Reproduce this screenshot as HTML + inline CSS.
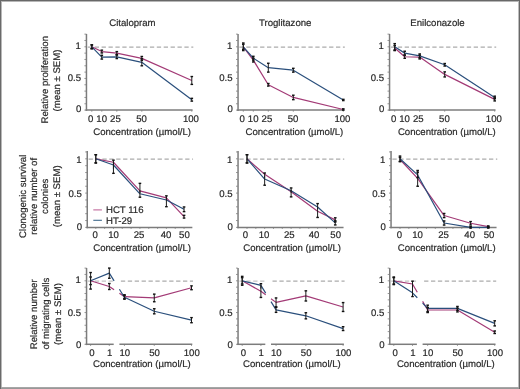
<!DOCTYPE html>
<html><head><meta charset="utf-8"><style>
html,body{margin:0;padding:0;background:#fff;}
#f{position:relative;width:520px;height:389px;overflow:hidden;background:#fff;}
svg{position:absolute;left:0;top:0;}
text{font-family:"Liberation Sans",sans-serif;fill:#2a2a2a;stroke:#2a2a2a;stroke-width:0.2px;text-rendering:geometricPrecision;}
</style></head><body><div id="f">
<svg width="520" height="389" viewBox="0 0 520 389" style="will-change:transform">
<rect x="0" y="0" width="520" height="389" fill="#fff"/>
<rect x="0" y="0" width="520" height="1" fill="#686868"/>
<rect x="1" y="1" width="518" height="1" fill="#b6b6b6"/>
<rect x="0" y="0" width="1" height="389" fill="#6a6a6a"/>
<rect x="1" y="1" width="1" height="386" fill="#b8b8b8"/>
<rect x="519" y="0" width="1" height="389" fill="#686868"/>
<rect x="518" y="1" width="1" height="386" fill="#bdbdbd"/>
<rect x="1" y="387" width="518" height="1" fill="#a6a6a6"/>
<rect x="1" y="388" width="518" height="1" fill="#989898"/>
<text x="132.4" y="26.4" text-anchor="middle" font-size="9.6" >Citalopram</text>
<line x1="87.8" y1="47.1" x2="193.3" y2="47.1" stroke="#acacac" stroke-width="1.15" stroke-dasharray="4.3 2.6"/>
<line x1="86.45" y1="33.9" x2="86.45" y2="110.9" stroke="#7c7c7c" stroke-width="1.5" />
<line x1="84.4" y1="110.1" x2="86.2" y2="110.1" stroke="#7c7c7c" stroke-width="0.8" />
<line x1="84.4" y1="103.77" x2="86.2" y2="103.77" stroke="#7c7c7c" stroke-width="0.8" />
<line x1="84.4" y1="97.44" x2="86.2" y2="97.44" stroke="#7c7c7c" stroke-width="0.8" />
<line x1="84.4" y1="91.11" x2="86.2" y2="91.11" stroke="#7c7c7c" stroke-width="0.8" />
<line x1="84.4" y1="84.78" x2="86.2" y2="84.78" stroke="#7c7c7c" stroke-width="0.8" />
<line x1="84.4" y1="78.45" x2="86.2" y2="78.45" stroke="#7c7c7c" stroke-width="0.8" />
<line x1="84.4" y1="72.12" x2="86.2" y2="72.12" stroke="#7c7c7c" stroke-width="0.8" />
<line x1="84.4" y1="65.79" x2="86.2" y2="65.79" stroke="#7c7c7c" stroke-width="0.8" />
<line x1="84.4" y1="59.46" x2="86.2" y2="59.46" stroke="#7c7c7c" stroke-width="0.8" />
<line x1="84.4" y1="53.13" x2="86.2" y2="53.13" stroke="#7c7c7c" stroke-width="0.8" />
<line x1="84.4" y1="46.8" x2="86.2" y2="46.8" stroke="#7c7c7c" stroke-width="0.8" />
<line x1="84.4" y1="40.47" x2="86.2" y2="40.47" stroke="#7c7c7c" stroke-width="0.8" />
<line x1="84.4" y1="34.14" x2="86.2" y2="34.14" stroke="#7c7c7c" stroke-width="0.8" />
<text x="80.8" y="49.2" text-anchor="end" font-size="9.6" >1</text>
<text x="81" y="80.6" text-anchor="end" font-size="9.6" >0.5</text>
<text x="81.3" y="111.55" text-anchor="end" font-size="9.6" >0</text>
<line x1="85.6" y1="110.1" x2="192.6" y2="110.1" stroke="#7c7c7c" stroke-width="1.5" />
<line x1="91.8" y1="110.1" x2="91.8" y2="111.7" stroke="#7c7c7c" stroke-width="0.8" />
<text x="90.7" y="122" text-anchor="middle" font-size="9.6" >0</text>
<line x1="101.8" y1="110.1" x2="101.8" y2="111.7" stroke="#7c7c7c" stroke-width="0.8" />
<text x="101.7" y="122" text-anchor="middle" font-size="9.6" >10</text>
<line x1="116.8" y1="110.1" x2="116.8" y2="111.7" stroke="#7c7c7c" stroke-width="0.8" />
<text x="115.45" y="122" text-anchor="middle" font-size="9.6" >25</text>
<line x1="141.8" y1="110.1" x2="141.8" y2="111.7" stroke="#7c7c7c" stroke-width="0.8" />
<text x="141.55" y="122" text-anchor="middle" font-size="9.6" >50</text>
<line x1="191.8" y1="110.1" x2="191.8" y2="111.7" stroke="#7c7c7c" stroke-width="0.8" />
<text x="190.95" y="122" text-anchor="middle" font-size="9.6" >100</text>
<text x="142.1" y="134.5" text-anchor="middle" font-size="9.6" >Concentration (µmol/L)</text>
<polyline points="91.8,46.8 101.8,51.55 116.8,53.13 141.8,58.38 191.8,80.48" fill="none" stroke="#a33a76" stroke-width="1.2" stroke-linejoin="round"/>
<polyline points="91.8,46.8 101.8,57.18 116.8,56.8 141.8,62.31 191.8,99.72" fill="none" stroke="#2a4f7c" stroke-width="1.2" stroke-linejoin="round"/>
<line x1="91.8" y1="44.9" x2="91.8" y2="48.7" stroke="#1c1c1c" stroke-width="1.0" />
<line x1="90.5" y1="44.9" x2="93.1" y2="44.9" stroke="#111" stroke-width="1.4" />
<line x1="90.5" y1="48.7" x2="93.1" y2="48.7" stroke="#111" stroke-width="1.4" />
<line x1="101.8" y1="50.15" x2="101.8" y2="52.94" stroke="#1c1c1c" stroke-width="1.0" />
<line x1="100.5" y1="50.15" x2="103.1" y2="50.15" stroke="#111" stroke-width="1.4" />
<line x1="100.5" y1="52.94" x2="103.1" y2="52.94" stroke="#111" stroke-width="1.4" />
<line x1="116.8" y1="51.61" x2="116.8" y2="54.65" stroke="#1c1c1c" stroke-width="1.0" />
<line x1="115.5" y1="51.61" x2="118.1" y2="51.61" stroke="#111" stroke-width="1.4" />
<line x1="115.5" y1="54.65" x2="118.1" y2="54.65" stroke="#111" stroke-width="1.4" />
<line x1="141.8" y1="56.48" x2="141.8" y2="60.28" stroke="#1c1c1c" stroke-width="1.0" />
<line x1="140.5" y1="56.48" x2="143.1" y2="56.48" stroke="#111" stroke-width="1.4" />
<line x1="140.5" y1="60.28" x2="143.1" y2="60.28" stroke="#111" stroke-width="1.4" />
<line x1="191.8" y1="76.55" x2="191.8" y2="84.4" stroke="#1c1c1c" stroke-width="1.0" />
<line x1="190.5" y1="76.55" x2="193.1" y2="76.55" stroke="#111" stroke-width="1.4" />
<line x1="190.5" y1="84.4" x2="193.1" y2="84.4" stroke="#111" stroke-width="1.4" />
<line x1="91.8" y1="44.9" x2="91.8" y2="48.7" stroke="#1c1c1c" stroke-width="1.0" />
<line x1="90.5" y1="44.9" x2="93.1" y2="44.9" stroke="#111" stroke-width="1.4" />
<line x1="90.5" y1="48.7" x2="93.1" y2="48.7" stroke="#111" stroke-width="1.4" />
<line x1="101.8" y1="55.28" x2="101.8" y2="59.08" stroke="#1c1c1c" stroke-width="1.0" />
<line x1="100.5" y1="55.28" x2="103.1" y2="55.28" stroke="#111" stroke-width="1.4" />
<line x1="100.5" y1="59.08" x2="103.1" y2="59.08" stroke="#111" stroke-width="1.4" />
<line x1="116.8" y1="55.03" x2="116.8" y2="58.57" stroke="#1c1c1c" stroke-width="1.0" />
<line x1="115.5" y1="55.03" x2="118.1" y2="55.03" stroke="#111" stroke-width="1.4" />
<line x1="115.5" y1="58.57" x2="118.1" y2="58.57" stroke="#111" stroke-width="1.4" />
<line x1="141.8" y1="58.83" x2="141.8" y2="65.79" stroke="#1c1c1c" stroke-width="1.0" />
<line x1="140.5" y1="58.83" x2="143.1" y2="58.83" stroke="#111" stroke-width="1.4" />
<line x1="140.5" y1="65.79" x2="143.1" y2="65.79" stroke="#111" stroke-width="1.4" />
<line x1="191.8" y1="98.33" x2="191.8" y2="101.11" stroke="#1c1c1c" stroke-width="1.0" />
<line x1="190.5" y1="98.33" x2="193.1" y2="98.33" stroke="#111" stroke-width="1.4" />
<line x1="190.5" y1="101.11" x2="193.1" y2="101.11" stroke="#111" stroke-width="1.4" />
<text x="285.2" y="26.4" text-anchor="middle" font-size="9.6" >Troglitazone</text>
<line x1="239.4" y1="47.1" x2="344.8" y2="47.1" stroke="#acacac" stroke-width="1.15" stroke-dasharray="4.3 2.6"/>
<line x1="238.05" y1="33.9" x2="238.05" y2="110.9" stroke="#7c7c7c" stroke-width="1.5" />
<line x1="236" y1="110.1" x2="237.8" y2="110.1" stroke="#7c7c7c" stroke-width="0.8" />
<line x1="236" y1="103.77" x2="237.8" y2="103.77" stroke="#7c7c7c" stroke-width="0.8" />
<line x1="236" y1="97.44" x2="237.8" y2="97.44" stroke="#7c7c7c" stroke-width="0.8" />
<line x1="236" y1="91.11" x2="237.8" y2="91.11" stroke="#7c7c7c" stroke-width="0.8" />
<line x1="236" y1="84.78" x2="237.8" y2="84.78" stroke="#7c7c7c" stroke-width="0.8" />
<line x1="236" y1="78.45" x2="237.8" y2="78.45" stroke="#7c7c7c" stroke-width="0.8" />
<line x1="236" y1="72.12" x2="237.8" y2="72.12" stroke="#7c7c7c" stroke-width="0.8" />
<line x1="236" y1="65.79" x2="237.8" y2="65.79" stroke="#7c7c7c" stroke-width="0.8" />
<line x1="236" y1="59.46" x2="237.8" y2="59.46" stroke="#7c7c7c" stroke-width="0.8" />
<line x1="236" y1="53.13" x2="237.8" y2="53.13" stroke="#7c7c7c" stroke-width="0.8" />
<line x1="236" y1="46.8" x2="237.8" y2="46.8" stroke="#7c7c7c" stroke-width="0.8" />
<line x1="236" y1="40.47" x2="237.8" y2="40.47" stroke="#7c7c7c" stroke-width="0.8" />
<line x1="236" y1="34.14" x2="237.8" y2="34.14" stroke="#7c7c7c" stroke-width="0.8" />
<text x="232.4" y="49.2" text-anchor="end" font-size="9.6" >1</text>
<text x="232.6" y="80.6" text-anchor="end" font-size="9.6" >0.5</text>
<text x="232.9" y="111.55" text-anchor="end" font-size="9.6" >0</text>
<line x1="237.2" y1="110.1" x2="344.1" y2="110.1" stroke="#7c7c7c" stroke-width="1.5" />
<line x1="243.3" y1="110.1" x2="243.3" y2="111.7" stroke="#7c7c7c" stroke-width="0.8" />
<text x="242.2" y="122" text-anchor="middle" font-size="9.6" >0</text>
<line x1="253.3" y1="110.1" x2="253.3" y2="111.7" stroke="#7c7c7c" stroke-width="0.8" />
<text x="253.2" y="122" text-anchor="middle" font-size="9.6" >10</text>
<line x1="268.3" y1="110.1" x2="268.3" y2="111.7" stroke="#7c7c7c" stroke-width="0.8" />
<text x="266.95" y="122" text-anchor="middle" font-size="9.6" >25</text>
<line x1="293.3" y1="110.1" x2="293.3" y2="111.7" stroke="#7c7c7c" stroke-width="0.8" />
<text x="293.05" y="122" text-anchor="middle" font-size="9.6" >50</text>
<line x1="343.3" y1="110.1" x2="343.3" y2="111.7" stroke="#7c7c7c" stroke-width="0.8" />
<text x="342.45" y="122" text-anchor="middle" font-size="9.6" >100</text>
<text x="294.4" y="134.5" text-anchor="middle" font-size="9.6" >Concentration (µmol/L)</text>
<polyline points="243.3,46.8 253.3,60.09 268.3,84.78 293.3,97.44 343.3,109.47" fill="none" stroke="#a33a76" stroke-width="1.2" stroke-linejoin="round"/>
<polyline points="243.3,46.8 253.3,58.19 268.3,67.69 293.3,70.22 343.3,99.97" fill="none" stroke="#2a4f7c" stroke-width="1.2" stroke-linejoin="round"/>
<line x1="243.3" y1="44.27" x2="243.3" y2="49.33" stroke="#1c1c1c" stroke-width="1.0" />
<line x1="242" y1="44.27" x2="244.6" y2="44.27" stroke="#111" stroke-width="1.4" />
<line x1="242" y1="49.33" x2="244.6" y2="49.33" stroke="#111" stroke-width="1.4" />
<line x1="253.3" y1="58.19" x2="253.3" y2="61.99" stroke="#1c1c1c" stroke-width="1.0" />
<line x1="252" y1="58.19" x2="254.6" y2="58.19" stroke="#111" stroke-width="1.4" />
<line x1="252" y1="61.99" x2="254.6" y2="61.99" stroke="#111" stroke-width="1.4" />
<line x1="268.3" y1="83.51" x2="268.3" y2="86.05" stroke="#1c1c1c" stroke-width="1.0" />
<line x1="267" y1="83.51" x2="269.6" y2="83.51" stroke="#111" stroke-width="1.4" />
<line x1="267" y1="86.05" x2="269.6" y2="86.05" stroke="#111" stroke-width="1.4" />
<line x1="293.3" y1="95.22" x2="293.3" y2="99.66" stroke="#1c1c1c" stroke-width="1.0" />
<line x1="292" y1="95.22" x2="294.6" y2="95.22" stroke="#111" stroke-width="1.4" />
<line x1="292" y1="99.66" x2="294.6" y2="99.66" stroke="#111" stroke-width="1.4" />
<line x1="343.3" y1="108.83" x2="343.3" y2="110.1" stroke="#1c1c1c" stroke-width="1.0" />
<line x1="342" y1="108.83" x2="344.6" y2="108.83" stroke="#111" stroke-width="1.4" />
<line x1="342" y1="110.1" x2="344.6" y2="110.1" stroke="#111" stroke-width="1.4" />
<line x1="243.3" y1="43" x2="243.3" y2="50.6" stroke="#1c1c1c" stroke-width="1.0" />
<line x1="242" y1="43" x2="244.6" y2="43" stroke="#111" stroke-width="1.4" />
<line x1="242" y1="50.6" x2="244.6" y2="50.6" stroke="#111" stroke-width="1.4" />
<line x1="253.3" y1="56.3" x2="253.3" y2="60.09" stroke="#1c1c1c" stroke-width="1.0" />
<line x1="252" y1="56.3" x2="254.6" y2="56.3" stroke="#111" stroke-width="1.4" />
<line x1="252" y1="60.09" x2="254.6" y2="60.09" stroke="#111" stroke-width="1.4" />
<line x1="268.3" y1="63.26" x2="268.3" y2="72.12" stroke="#1c1c1c" stroke-width="1.0" />
<line x1="267" y1="63.26" x2="269.6" y2="63.26" stroke="#111" stroke-width="1.4" />
<line x1="267" y1="72.12" x2="269.6" y2="72.12" stroke="#111" stroke-width="1.4" />
<line x1="293.3" y1="68.32" x2="293.3" y2="72.12" stroke="#1c1c1c" stroke-width="1.0" />
<line x1="292" y1="68.32" x2="294.6" y2="68.32" stroke="#111" stroke-width="1.4" />
<line x1="292" y1="72.12" x2="294.6" y2="72.12" stroke="#111" stroke-width="1.4" />
<line x1="343.3" y1="99.34" x2="343.3" y2="100.6" stroke="#1c1c1c" stroke-width="1.0" />
<line x1="342" y1="99.34" x2="344.6" y2="99.34" stroke="#111" stroke-width="1.4" />
<line x1="342" y1="100.6" x2="344.6" y2="100.6" stroke="#111" stroke-width="1.4" />
<text x="437.5" y="26.4" text-anchor="middle" font-size="9.6" >Enilconazole</text>
<line x1="390.9" y1="47.1" x2="496.2" y2="47.1" stroke="#acacac" stroke-width="1.15" stroke-dasharray="4.3 2.6"/>
<line x1="389.55" y1="33.9" x2="389.55" y2="110.9" stroke="#7c7c7c" stroke-width="1.5" />
<line x1="387.5" y1="110.1" x2="389.3" y2="110.1" stroke="#7c7c7c" stroke-width="0.8" />
<line x1="387.5" y1="103.77" x2="389.3" y2="103.77" stroke="#7c7c7c" stroke-width="0.8" />
<line x1="387.5" y1="97.44" x2="389.3" y2="97.44" stroke="#7c7c7c" stroke-width="0.8" />
<line x1="387.5" y1="91.11" x2="389.3" y2="91.11" stroke="#7c7c7c" stroke-width="0.8" />
<line x1="387.5" y1="84.78" x2="389.3" y2="84.78" stroke="#7c7c7c" stroke-width="0.8" />
<line x1="387.5" y1="78.45" x2="389.3" y2="78.45" stroke="#7c7c7c" stroke-width="0.8" />
<line x1="387.5" y1="72.12" x2="389.3" y2="72.12" stroke="#7c7c7c" stroke-width="0.8" />
<line x1="387.5" y1="65.79" x2="389.3" y2="65.79" stroke="#7c7c7c" stroke-width="0.8" />
<line x1="387.5" y1="59.46" x2="389.3" y2="59.46" stroke="#7c7c7c" stroke-width="0.8" />
<line x1="387.5" y1="53.13" x2="389.3" y2="53.13" stroke="#7c7c7c" stroke-width="0.8" />
<line x1="387.5" y1="46.8" x2="389.3" y2="46.8" stroke="#7c7c7c" stroke-width="0.8" />
<line x1="387.5" y1="40.47" x2="389.3" y2="40.47" stroke="#7c7c7c" stroke-width="0.8" />
<line x1="387.5" y1="34.14" x2="389.3" y2="34.14" stroke="#7c7c7c" stroke-width="0.8" />
<text x="383.9" y="49.2" text-anchor="end" font-size="9.6" >1</text>
<text x="384.1" y="80.6" text-anchor="end" font-size="9.6" >0.5</text>
<text x="384.4" y="111.55" text-anchor="end" font-size="9.6" >0</text>
<line x1="388.7" y1="110.1" x2="495.5" y2="110.1" stroke="#7c7c7c" stroke-width="1.5" />
<line x1="394.7" y1="110.1" x2="394.7" y2="111.7" stroke="#7c7c7c" stroke-width="0.8" />
<text x="393.6" y="122" text-anchor="middle" font-size="9.6" >0</text>
<line x1="404.7" y1="110.1" x2="404.7" y2="111.7" stroke="#7c7c7c" stroke-width="0.8" />
<text x="404.6" y="122" text-anchor="middle" font-size="9.6" >10</text>
<line x1="419.7" y1="110.1" x2="419.7" y2="111.7" stroke="#7c7c7c" stroke-width="0.8" />
<text x="418.35" y="122" text-anchor="middle" font-size="9.6" >25</text>
<line x1="444.7" y1="110.1" x2="444.7" y2="111.7" stroke="#7c7c7c" stroke-width="0.8" />
<text x="444.45" y="122" text-anchor="middle" font-size="9.6" >50</text>
<line x1="494.7" y1="110.1" x2="494.7" y2="111.7" stroke="#7c7c7c" stroke-width="0.8" />
<text x="493.85" y="122" text-anchor="middle" font-size="9.6" >100</text>
<text x="446.8" y="134.5" text-anchor="middle" font-size="9.6" >Concentration (µmol/L)</text>
<polyline points="394.7,48.07 404.7,56.74 419.7,57.05 444.7,74.4 494.7,99.34" fill="none" stroke="#a33a76" stroke-width="1.2" stroke-linejoin="round"/>
<polyline points="394.7,46.8 404.7,53.13 419.7,55.85 444.7,64.78 494.7,97.44" fill="none" stroke="#2a4f7c" stroke-width="1.2" stroke-linejoin="round"/>
<line x1="394.7" y1="45.53" x2="394.7" y2="50.6" stroke="#1c1c1c" stroke-width="1.0" />
<line x1="393.4" y1="45.53" x2="396" y2="45.53" stroke="#111" stroke-width="1.4" />
<line x1="393.4" y1="50.6" x2="396" y2="50.6" stroke="#111" stroke-width="1.4" />
<line x1="404.7" y1="55.16" x2="404.7" y2="58.32" stroke="#1c1c1c" stroke-width="1.0" />
<line x1="403.4" y1="55.16" x2="406" y2="55.16" stroke="#111" stroke-width="1.4" />
<line x1="403.4" y1="58.32" x2="406" y2="58.32" stroke="#111" stroke-width="1.4" />
<line x1="419.7" y1="55.16" x2="419.7" y2="58.95" stroke="#1c1c1c" stroke-width="1.0" />
<line x1="418.4" y1="55.16" x2="421" y2="55.16" stroke="#111" stroke-width="1.4" />
<line x1="418.4" y1="58.95" x2="421" y2="58.95" stroke="#111" stroke-width="1.4" />
<line x1="444.7" y1="71.87" x2="444.7" y2="76.93" stroke="#1c1c1c" stroke-width="1.0" />
<line x1="443.4" y1="71.87" x2="446" y2="71.87" stroke="#111" stroke-width="1.4" />
<line x1="443.4" y1="76.93" x2="446" y2="76.93" stroke="#111" stroke-width="1.4" />
<line x1="494.7" y1="97.76" x2="494.7" y2="100.92" stroke="#1c1c1c" stroke-width="1.0" />
<line x1="493.4" y1="97.76" x2="496" y2="97.76" stroke="#111" stroke-width="1.4" />
<line x1="493.4" y1="100.92" x2="496" y2="100.92" stroke="#111" stroke-width="1.4" />
<line x1="394.7" y1="43.63" x2="394.7" y2="49.96" stroke="#1c1c1c" stroke-width="1.0" />
<line x1="393.4" y1="43.63" x2="396" y2="43.63" stroke="#111" stroke-width="1.4" />
<line x1="393.4" y1="49.96" x2="396" y2="49.96" stroke="#111" stroke-width="1.4" />
<line x1="404.7" y1="51.23" x2="404.7" y2="55.03" stroke="#1c1c1c" stroke-width="1.0" />
<line x1="403.4" y1="51.23" x2="406" y2="51.23" stroke="#111" stroke-width="1.4" />
<line x1="403.4" y1="55.03" x2="406" y2="55.03" stroke="#111" stroke-width="1.4" />
<line x1="419.7" y1="53.95" x2="419.7" y2="57.75" stroke="#1c1c1c" stroke-width="1.0" />
<line x1="418.4" y1="53.95" x2="421" y2="53.95" stroke="#111" stroke-width="1.4" />
<line x1="418.4" y1="57.75" x2="421" y2="57.75" stroke="#111" stroke-width="1.4" />
<line x1="444.7" y1="63.51" x2="444.7" y2="66.04" stroke="#1c1c1c" stroke-width="1.0" />
<line x1="443.4" y1="63.51" x2="446" y2="63.51" stroke="#111" stroke-width="1.4" />
<line x1="443.4" y1="66.04" x2="446" y2="66.04" stroke="#111" stroke-width="1.4" />
<line x1="494.7" y1="96.17" x2="494.7" y2="98.71" stroke="#1c1c1c" stroke-width="1.0" />
<line x1="493.4" y1="96.17" x2="496" y2="96.17" stroke="#111" stroke-width="1.4" />
<line x1="493.4" y1="98.71" x2="496" y2="98.71" stroke="#111" stroke-width="1.4" />
<line x1="88.6" y1="159.1" x2="193.05" y2="159.1" stroke="#acacac" stroke-width="1.15" stroke-dasharray="4.3 2.6"/>
<line x1="87.25" y1="151.1" x2="87.25" y2="228.2" stroke="#7c7c7c" stroke-width="1.5" />
<line x1="85.2" y1="227.4" x2="87" y2="227.4" stroke="#7c7c7c" stroke-width="0.8" />
<line x1="85.2" y1="220.54" x2="87" y2="220.54" stroke="#7c7c7c" stroke-width="0.8" />
<line x1="85.2" y1="213.68" x2="87" y2="213.68" stroke="#7c7c7c" stroke-width="0.8" />
<line x1="85.2" y1="206.82" x2="87" y2="206.82" stroke="#7c7c7c" stroke-width="0.8" />
<line x1="85.2" y1="199.96" x2="87" y2="199.96" stroke="#7c7c7c" stroke-width="0.8" />
<line x1="85.2" y1="193.1" x2="87" y2="193.1" stroke="#7c7c7c" stroke-width="0.8" />
<line x1="85.2" y1="186.24" x2="87" y2="186.24" stroke="#7c7c7c" stroke-width="0.8" />
<line x1="85.2" y1="179.38" x2="87" y2="179.38" stroke="#7c7c7c" stroke-width="0.8" />
<line x1="85.2" y1="172.52" x2="87" y2="172.52" stroke="#7c7c7c" stroke-width="0.8" />
<line x1="85.2" y1="165.66" x2="87" y2="165.66" stroke="#7c7c7c" stroke-width="0.8" />
<line x1="85.2" y1="158.8" x2="87" y2="158.8" stroke="#7c7c7c" stroke-width="0.8" />
<line x1="85.2" y1="151.94" x2="87" y2="151.94" stroke="#7c7c7c" stroke-width="0.8" />
<text x="81.6" y="163.35" text-anchor="end" font-size="9.6" >1</text>
<text x="81.8" y="197" text-anchor="end" font-size="9.6" >0.5</text>
<text x="82.1" y="229.75" text-anchor="end" font-size="9.6" >0</text>
<line x1="86.4" y1="227.4" x2="192.35" y2="227.4" stroke="#7c7c7c" stroke-width="1.5" />
<line x1="95.8" y1="227.4" x2="95.8" y2="228.9" stroke="#7c7c7c" stroke-width="0.8" />
<line x1="104.62" y1="227.4" x2="104.62" y2="228.9" stroke="#7c7c7c" stroke-width="0.8" />
<line x1="113.45" y1="227.4" x2="113.45" y2="228.9" stroke="#7c7c7c" stroke-width="0.8" />
<line x1="122.27" y1="227.4" x2="122.27" y2="228.9" stroke="#7c7c7c" stroke-width="0.8" />
<line x1="131.1" y1="227.4" x2="131.1" y2="228.9" stroke="#7c7c7c" stroke-width="0.8" />
<line x1="139.93" y1="227.4" x2="139.93" y2="228.9" stroke="#7c7c7c" stroke-width="0.8" />
<line x1="148.75" y1="227.4" x2="148.75" y2="228.9" stroke="#7c7c7c" stroke-width="0.8" />
<line x1="157.57" y1="227.4" x2="157.57" y2="228.9" stroke="#7c7c7c" stroke-width="0.8" />
<line x1="166.4" y1="227.4" x2="166.4" y2="228.9" stroke="#7c7c7c" stroke-width="0.8" />
<line x1="175.22" y1="227.4" x2="175.22" y2="228.9" stroke="#7c7c7c" stroke-width="0.8" />
<line x1="184.05" y1="227.4" x2="184.05" y2="228.9" stroke="#7c7c7c" stroke-width="0.8" />
<text x="95.2" y="238.2" text-anchor="middle" font-size="9.6" >0</text>
<text x="113.6" y="238.2" text-anchor="middle" font-size="9.6" >10</text>
<text x="139.03" y="238.2" text-anchor="middle" font-size="9.6" >25</text>
<text x="166" y="238.2" text-anchor="middle" font-size="9.6" >40</text>
<text x="184.4" y="238.2" text-anchor="middle" font-size="9.6" >50</text>
<text x="142.1" y="250.8" text-anchor="middle" font-size="9.6" >Concentration (µmol/L)</text>
<polyline points="95.8,158.8 113.45,162.23 139.93,190.9 166.4,197.9 184.05,216.7" fill="none" stroke="#a33a76" stroke-width="1.2" stroke-linejoin="round"/>
<polyline points="95.8,158.8 113.45,164.97 139.93,193.79 166.4,199.96 184.05,209.29" fill="none" stroke="#2a4f7c" stroke-width="1.2" stroke-linejoin="round"/>
<line x1="95.8" y1="154.68" x2="95.8" y2="162.92" stroke="#1c1c1c" stroke-width="1.0" />
<line x1="94.5" y1="154.68" x2="97.1" y2="154.68" stroke="#111" stroke-width="1.4" />
<line x1="94.5" y1="162.92" x2="97.1" y2="162.92" stroke="#111" stroke-width="1.4" />
<line x1="113.45" y1="160.17" x2="113.45" y2="169.09" stroke="#1c1c1c" stroke-width="1.0" />
<line x1="112.15" y1="160.17" x2="114.75" y2="160.17" stroke="#111" stroke-width="1.4" />
<line x1="139.93" y1="183.36" x2="139.93" y2="192.96" stroke="#1c1c1c" stroke-width="1.0" />
<line x1="138.62" y1="183.36" x2="141.23" y2="183.36" stroke="#111" stroke-width="1.4" />
<line x1="166.4" y1="195.84" x2="166.4" y2="199.96" stroke="#1c1c1c" stroke-width="1.0" />
<line x1="165.1" y1="195.84" x2="167.7" y2="195.84" stroke="#111" stroke-width="1.4" />
<line x1="184.05" y1="215.33" x2="184.05" y2="218.07" stroke="#1c1c1c" stroke-width="1.0" />
<line x1="182.75" y1="215.33" x2="185.35" y2="215.33" stroke="#111" stroke-width="1.4" />
<line x1="182.75" y1="218.07" x2="185.35" y2="218.07" stroke="#111" stroke-width="1.4" />
<line x1="95.8" y1="154.68" x2="95.8" y2="162.92" stroke="#1c1c1c" stroke-width="1.0" />
<line x1="94.5" y1="154.68" x2="97.1" y2="154.68" stroke="#111" stroke-width="1.4" />
<line x1="94.5" y1="162.92" x2="97.1" y2="162.92" stroke="#111" stroke-width="1.4" />
<line x1="113.45" y1="161.54" x2="113.45" y2="173.34" stroke="#1c1c1c" stroke-width="1.0" />
<line x1="112.15" y1="173.34" x2="114.75" y2="173.34" stroke="#111" stroke-width="1.4" />
<line x1="139.93" y1="190.36" x2="139.93" y2="197.22" stroke="#1c1c1c" stroke-width="1.0" />
<line x1="138.62" y1="197.22" x2="141.23" y2="197.22" stroke="#111" stroke-width="1.4" />
<line x1="166.4" y1="196.53" x2="166.4" y2="206.68" stroke="#1c1c1c" stroke-width="1.0" />
<line x1="165.1" y1="206.68" x2="167.7" y2="206.68" stroke="#111" stroke-width="1.4" />
<line x1="184.05" y1="206.96" x2="184.05" y2="211.62" stroke="#1c1c1c" stroke-width="1.0" />
<line x1="182.75" y1="206.96" x2="185.35" y2="206.96" stroke="#111" stroke-width="1.4" />
<line x1="182.75" y1="211.62" x2="185.35" y2="211.62" stroke="#111" stroke-width="1.4" />
<line x1="93.3" y1="209.9" x2="101.9" y2="209.9" stroke="#c0679a" stroke-width="1.1" />
<line x1="93.3" y1="220.3" x2="101.9" y2="220.3" stroke="#3f6a8c" stroke-width="1.1" />
<text x="106" y="213" text-anchor="start" font-size="9.6" >HCT 116</text>
<text x="106" y="223.9" text-anchor="start" font-size="9.6" >HT-29</text>
<line x1="239.4" y1="159.1" x2="344.25" y2="159.1" stroke="#acacac" stroke-width="1.15" stroke-dasharray="4.3 2.6"/>
<line x1="238.05" y1="151.1" x2="238.05" y2="228.2" stroke="#7c7c7c" stroke-width="1.5" />
<line x1="236" y1="227.4" x2="237.8" y2="227.4" stroke="#7c7c7c" stroke-width="0.8" />
<line x1="236" y1="220.54" x2="237.8" y2="220.54" stroke="#7c7c7c" stroke-width="0.8" />
<line x1="236" y1="213.68" x2="237.8" y2="213.68" stroke="#7c7c7c" stroke-width="0.8" />
<line x1="236" y1="206.82" x2="237.8" y2="206.82" stroke="#7c7c7c" stroke-width="0.8" />
<line x1="236" y1="199.96" x2="237.8" y2="199.96" stroke="#7c7c7c" stroke-width="0.8" />
<line x1="236" y1="193.1" x2="237.8" y2="193.1" stroke="#7c7c7c" stroke-width="0.8" />
<line x1="236" y1="186.24" x2="237.8" y2="186.24" stroke="#7c7c7c" stroke-width="0.8" />
<line x1="236" y1="179.38" x2="237.8" y2="179.38" stroke="#7c7c7c" stroke-width="0.8" />
<line x1="236" y1="172.52" x2="237.8" y2="172.52" stroke="#7c7c7c" stroke-width="0.8" />
<line x1="236" y1="165.66" x2="237.8" y2="165.66" stroke="#7c7c7c" stroke-width="0.8" />
<line x1="236" y1="158.8" x2="237.8" y2="158.8" stroke="#7c7c7c" stroke-width="0.8" />
<line x1="236" y1="151.94" x2="237.8" y2="151.94" stroke="#7c7c7c" stroke-width="0.8" />
<text x="232.4" y="163.35" text-anchor="end" font-size="9.6" >1</text>
<text x="232.6" y="197" text-anchor="end" font-size="9.6" >0.5</text>
<text x="232.9" y="229.75" text-anchor="end" font-size="9.6" >0</text>
<line x1="237.2" y1="227.4" x2="343.55" y2="227.4" stroke="#7c7c7c" stroke-width="1.5" />
<line x1="247" y1="227.4" x2="247" y2="228.9" stroke="#7c7c7c" stroke-width="0.8" />
<line x1="255.82" y1="227.4" x2="255.82" y2="228.9" stroke="#7c7c7c" stroke-width="0.8" />
<line x1="264.65" y1="227.4" x2="264.65" y2="228.9" stroke="#7c7c7c" stroke-width="0.8" />
<line x1="273.48" y1="227.4" x2="273.48" y2="228.9" stroke="#7c7c7c" stroke-width="0.8" />
<line x1="282.3" y1="227.4" x2="282.3" y2="228.9" stroke="#7c7c7c" stroke-width="0.8" />
<line x1="291.12" y1="227.4" x2="291.12" y2="228.9" stroke="#7c7c7c" stroke-width="0.8" />
<line x1="299.95" y1="227.4" x2="299.95" y2="228.9" stroke="#7c7c7c" stroke-width="0.8" />
<line x1="308.77" y1="227.4" x2="308.77" y2="228.9" stroke="#7c7c7c" stroke-width="0.8" />
<line x1="317.6" y1="227.4" x2="317.6" y2="228.9" stroke="#7c7c7c" stroke-width="0.8" />
<line x1="326.43" y1="227.4" x2="326.43" y2="228.9" stroke="#7c7c7c" stroke-width="0.8" />
<line x1="335.25" y1="227.4" x2="335.25" y2="228.9" stroke="#7c7c7c" stroke-width="0.8" />
<text x="245.4" y="238.2" text-anchor="middle" font-size="9.6" >0</text>
<text x="264.1" y="238.2" text-anchor="middle" font-size="9.6" >10</text>
<text x="289.27" y="238.2" text-anchor="middle" font-size="9.6" >25</text>
<text x="314.1" y="238.2" text-anchor="middle" font-size="9.6" >40</text>
<text x="335.65" y="238.2" text-anchor="middle" font-size="9.6" >50</text>
<text x="292.1" y="250.8" text-anchor="middle" font-size="9.6" >Concentration (µmol/L)</text>
<polyline points="247,158.8 264.65,174.24 291.12,191.73 317.6,211.28 335.25,219.85" fill="none" stroke="#a33a76" stroke-width="1.2" stroke-linejoin="round"/>
<polyline points="247,158.8 264.65,179.04 291.12,190.7 317.6,207.03 335.25,222.87" fill="none" stroke="#2a4f7c" stroke-width="1.2" stroke-linejoin="round"/>
<line x1="247" y1="154.68" x2="247" y2="162.92" stroke="#1c1c1c" stroke-width="1.0" />
<line x1="245.7" y1="154.68" x2="248.3" y2="154.68" stroke="#111" stroke-width="1.4" />
<line x1="245.7" y1="162.92" x2="248.3" y2="162.92" stroke="#111" stroke-width="1.4" />
<line x1="264.65" y1="173" x2="264.65" y2="177.67" stroke="#1c1c1c" stroke-width="1.0" />
<line x1="263.35" y1="173" x2="265.95" y2="173" stroke="#111" stroke-width="1.4" />
<line x1="291.12" y1="189.67" x2="291.12" y2="196.87" stroke="#1c1c1c" stroke-width="1.0" />
<line x1="289.82" y1="196.87" x2="292.43" y2="196.87" stroke="#111" stroke-width="1.4" />
<line x1="317.6" y1="207.85" x2="317.6" y2="217.45" stroke="#1c1c1c" stroke-width="1.0" />
<line x1="316.3" y1="217.45" x2="318.9" y2="217.45" stroke="#111" stroke-width="1.4" />
<line x1="335.25" y1="217.8" x2="335.25" y2="221.91" stroke="#1c1c1c" stroke-width="1.0" />
<line x1="333.95" y1="217.8" x2="336.55" y2="217.8" stroke="#111" stroke-width="1.4" />
<line x1="333.95" y1="221.91" x2="336.55" y2="221.91" stroke="#111" stroke-width="1.4" />
<line x1="247" y1="154.68" x2="247" y2="162.92" stroke="#1c1c1c" stroke-width="1.0" />
<line x1="245.7" y1="154.68" x2="248.3" y2="154.68" stroke="#111" stroke-width="1.4" />
<line x1="245.7" y1="162.92" x2="248.3" y2="162.92" stroke="#111" stroke-width="1.4" />
<line x1="264.65" y1="175.61" x2="264.65" y2="185.21" stroke="#1c1c1c" stroke-width="1.0" />
<line x1="263.35" y1="185.21" x2="265.95" y2="185.21" stroke="#111" stroke-width="1.4" />
<line x1="291.12" y1="187.96" x2="291.12" y2="192.76" stroke="#1c1c1c" stroke-width="1.0" />
<line x1="289.82" y1="187.96" x2="292.43" y2="187.96" stroke="#111" stroke-width="1.4" />
<line x1="317.6" y1="203.6" x2="317.6" y2="209.08" stroke="#1c1c1c" stroke-width="1.0" />
<line x1="316.3" y1="203.6" x2="318.9" y2="203.6" stroke="#111" stroke-width="1.4" />
<line x1="335.25" y1="220.81" x2="335.25" y2="224.93" stroke="#1c1c1c" stroke-width="1.0" />
<line x1="333.95" y1="220.81" x2="336.55" y2="220.81" stroke="#111" stroke-width="1.4" />
<line x1="333.95" y1="224.93" x2="336.55" y2="224.93" stroke="#111" stroke-width="1.4" />
<line x1="392.4" y1="159.1" x2="497.25" y2="159.1" stroke="#acacac" stroke-width="1.15" stroke-dasharray="4.3 2.6"/>
<line x1="391.05" y1="151.1" x2="391.05" y2="228.2" stroke="#7c7c7c" stroke-width="1.5" />
<line x1="389" y1="227.4" x2="390.8" y2="227.4" stroke="#7c7c7c" stroke-width="0.8" />
<line x1="389" y1="220.54" x2="390.8" y2="220.54" stroke="#7c7c7c" stroke-width="0.8" />
<line x1="389" y1="213.68" x2="390.8" y2="213.68" stroke="#7c7c7c" stroke-width="0.8" />
<line x1="389" y1="206.82" x2="390.8" y2="206.82" stroke="#7c7c7c" stroke-width="0.8" />
<line x1="389" y1="199.96" x2="390.8" y2="199.96" stroke="#7c7c7c" stroke-width="0.8" />
<line x1="389" y1="193.1" x2="390.8" y2="193.1" stroke="#7c7c7c" stroke-width="0.8" />
<line x1="389" y1="186.24" x2="390.8" y2="186.24" stroke="#7c7c7c" stroke-width="0.8" />
<line x1="389" y1="179.38" x2="390.8" y2="179.38" stroke="#7c7c7c" stroke-width="0.8" />
<line x1="389" y1="172.52" x2="390.8" y2="172.52" stroke="#7c7c7c" stroke-width="0.8" />
<line x1="389" y1="165.66" x2="390.8" y2="165.66" stroke="#7c7c7c" stroke-width="0.8" />
<line x1="389" y1="158.8" x2="390.8" y2="158.8" stroke="#7c7c7c" stroke-width="0.8" />
<line x1="389" y1="151.94" x2="390.8" y2="151.94" stroke="#7c7c7c" stroke-width="0.8" />
<text x="385.4" y="163.35" text-anchor="end" font-size="9.6" >1</text>
<text x="385.6" y="197" text-anchor="end" font-size="9.6" >0.5</text>
<text x="385.9" y="229.75" text-anchor="end" font-size="9.6" >0</text>
<line x1="390.2" y1="227.4" x2="496.55" y2="227.4" stroke="#7c7c7c" stroke-width="1.5" />
<line x1="400" y1="227.4" x2="400" y2="228.9" stroke="#7c7c7c" stroke-width="0.8" />
<line x1="408.82" y1="227.4" x2="408.82" y2="228.9" stroke="#7c7c7c" stroke-width="0.8" />
<line x1="417.65" y1="227.4" x2="417.65" y2="228.9" stroke="#7c7c7c" stroke-width="0.8" />
<line x1="426.48" y1="227.4" x2="426.48" y2="228.9" stroke="#7c7c7c" stroke-width="0.8" />
<line x1="435.3" y1="227.4" x2="435.3" y2="228.9" stroke="#7c7c7c" stroke-width="0.8" />
<line x1="444.12" y1="227.4" x2="444.12" y2="228.9" stroke="#7c7c7c" stroke-width="0.8" />
<line x1="452.95" y1="227.4" x2="452.95" y2="228.9" stroke="#7c7c7c" stroke-width="0.8" />
<line x1="461.77" y1="227.4" x2="461.77" y2="228.9" stroke="#7c7c7c" stroke-width="0.8" />
<line x1="470.6" y1="227.4" x2="470.6" y2="228.9" stroke="#7c7c7c" stroke-width="0.8" />
<line x1="479.43" y1="227.4" x2="479.43" y2="228.9" stroke="#7c7c7c" stroke-width="0.8" />
<line x1="488.25" y1="227.4" x2="488.25" y2="228.9" stroke="#7c7c7c" stroke-width="0.8" />
<text x="399.4" y="238.2" text-anchor="middle" font-size="9.6" >0</text>
<text x="417.5" y="238.2" text-anchor="middle" font-size="9.6" >10</text>
<text x="443.62" y="238.2" text-anchor="middle" font-size="9.6" >25</text>
<text x="469.7" y="238.2" text-anchor="middle" font-size="9.6" >40</text>
<text x="489" y="238.2" text-anchor="middle" font-size="9.6" >50</text>
<text x="446.7" y="250.8" text-anchor="middle" font-size="9.6" >Concentration (µmol/L)</text>
<polyline points="400,159.49 417.65,178.35 444.12,215.53 470.6,223.28 488.25,226.58" fill="none" stroke="#a33a76" stroke-width="1.2" stroke-linejoin="round"/>
<polyline points="400,158.8 417.65,174.92 444.12,223.01 470.6,227.4 488.25,227.4" fill="none" stroke="#2a4f7c" stroke-width="1.2" stroke-linejoin="round"/>
<line x1="400" y1="157.43" x2="400" y2="161.54" stroke="#1c1c1c" stroke-width="1.0" />
<line x1="398.7" y1="157.43" x2="401.3" y2="157.43" stroke="#111" stroke-width="1.4" />
<line x1="398.7" y1="161.54" x2="401.3" y2="161.54" stroke="#111" stroke-width="1.4" />
<line x1="417.65" y1="170.46" x2="417.65" y2="186.24" stroke="#1c1c1c" stroke-width="1.0" />
<line x1="416.35" y1="170.46" x2="418.95" y2="170.46" stroke="#111" stroke-width="1.4" />
<line x1="416.35" y1="186.24" x2="418.95" y2="186.24" stroke="#111" stroke-width="1.4" />
<line x1="444.12" y1="213.47" x2="444.12" y2="217.59" stroke="#1c1c1c" stroke-width="1.0" />
<line x1="442.82" y1="213.47" x2="445.43" y2="213.47" stroke="#111" stroke-width="1.4" />
<line x1="442.82" y1="217.59" x2="445.43" y2="217.59" stroke="#111" stroke-width="1.4" />
<line x1="470.6" y1="221.57" x2="470.6" y2="225" stroke="#1c1c1c" stroke-width="1.0" />
<line x1="469.3" y1="221.57" x2="471.9" y2="221.57" stroke="#111" stroke-width="1.4" />
<line x1="469.3" y1="225" x2="471.9" y2="225" stroke="#111" stroke-width="1.4" />
<line x1="488.25" y1="225.89" x2="488.25" y2="227.26" stroke="#1c1c1c" stroke-width="1.0" />
<line x1="486.95" y1="225.89" x2="489.55" y2="225.89" stroke="#111" stroke-width="1.4" />
<line x1="486.95" y1="227.26" x2="489.55" y2="227.26" stroke="#111" stroke-width="1.4" />
<line x1="400" y1="156.06" x2="400" y2="161.54" stroke="#1c1c1c" stroke-width="1.0" />
<line x1="398.7" y1="156.06" x2="401.3" y2="156.06" stroke="#111" stroke-width="1.4" />
<line x1="398.7" y1="161.54" x2="401.3" y2="161.54" stroke="#111" stroke-width="1.4" />
<line x1="417.65" y1="172.18" x2="417.65" y2="177.66" stroke="#1c1c1c" stroke-width="1.0" />
<line x1="416.35" y1="172.18" x2="418.95" y2="172.18" stroke="#111" stroke-width="1.4" />
<line x1="416.35" y1="177.66" x2="418.95" y2="177.66" stroke="#111" stroke-width="1.4" />
<line x1="444.12" y1="220.95" x2="444.12" y2="225.07" stroke="#1c1c1c" stroke-width="1.0" />
<line x1="442.82" y1="220.95" x2="445.43" y2="220.95" stroke="#111" stroke-width="1.4" />
<line x1="442.82" y1="225.07" x2="445.43" y2="225.07" stroke="#111" stroke-width="1.4" />
<line x1="470.6" y1="226.71" x2="470.6" y2="228.09" stroke="#1c1c1c" stroke-width="1.0" />
<line x1="469.3" y1="226.71" x2="471.9" y2="226.71" stroke="#111" stroke-width="1.4" />
<line x1="469.3" y1="228.09" x2="471.9" y2="228.09" stroke="#111" stroke-width="1.4" />
<line x1="488.25" y1="226.71" x2="488.25" y2="228.09" stroke="#1c1c1c" stroke-width="1.0" />
<line x1="486.95" y1="226.71" x2="489.55" y2="226.71" stroke="#111" stroke-width="1.4" />
<line x1="486.95" y1="228.09" x2="489.55" y2="228.09" stroke="#111" stroke-width="1.4" />
<line x1="87.9" y1="281.1" x2="113.7" y2="281.1" stroke="#c4c4c4" stroke-width="1.15" stroke-dasharray="4.3 2.6"/>
<line x1="120.9" y1="281.1" x2="193" y2="281.1" stroke="#acacac" stroke-width="1.15" stroke-dasharray="4.3 2.6"/>
<line x1="86.55" y1="267.9" x2="86.55" y2="345.1" stroke="#7c7c7c" stroke-width="1.5" />
<line x1="84.5" y1="344.3" x2="86.3" y2="344.3" stroke="#7c7c7c" stroke-width="0.8" />
<line x1="84.5" y1="337.95" x2="86.3" y2="337.95" stroke="#7c7c7c" stroke-width="0.8" />
<line x1="84.5" y1="331.6" x2="86.3" y2="331.6" stroke="#7c7c7c" stroke-width="0.8" />
<line x1="84.5" y1="325.25" x2="86.3" y2="325.25" stroke="#7c7c7c" stroke-width="0.8" />
<line x1="84.5" y1="318.9" x2="86.3" y2="318.9" stroke="#7c7c7c" stroke-width="0.8" />
<line x1="84.5" y1="312.55" x2="86.3" y2="312.55" stroke="#7c7c7c" stroke-width="0.8" />
<line x1="84.5" y1="306.2" x2="86.3" y2="306.2" stroke="#7c7c7c" stroke-width="0.8" />
<line x1="84.5" y1="299.85" x2="86.3" y2="299.85" stroke="#7c7c7c" stroke-width="0.8" />
<line x1="84.5" y1="293.5" x2="86.3" y2="293.5" stroke="#7c7c7c" stroke-width="0.8" />
<line x1="84.5" y1="287.15" x2="86.3" y2="287.15" stroke="#7c7c7c" stroke-width="0.8" />
<line x1="84.5" y1="280.8" x2="86.3" y2="280.8" stroke="#7c7c7c" stroke-width="0.8" />
<line x1="84.5" y1="274.45" x2="86.3" y2="274.45" stroke="#7c7c7c" stroke-width="0.8" />
<line x1="84.5" y1="268.1" x2="86.3" y2="268.1" stroke="#7c7c7c" stroke-width="0.8" />
<text x="80.9" y="282.95" text-anchor="end" font-size="9.6" >1</text>
<text x="81.1" y="315.9" text-anchor="end" font-size="9.6" >0.5</text>
<text x="81.4" y="347.5" text-anchor="end" font-size="9.6" >0</text>
<line x1="85.7" y1="344.3" x2="113.7" y2="344.3" stroke="#7c7c7c" stroke-width="1.5" />
<line x1="119.4" y1="344.3" x2="192.3" y2="344.3" stroke="#7c7c7c" stroke-width="1.5" />
<line x1="90.6" y1="344.3" x2="90.6" y2="345.9" stroke="#7c7c7c" stroke-width="0.8" />
<text x="91.9" y="356.1" text-anchor="middle" font-size="9.6" >0</text>
<line x1="109.3" y1="344.3" x2="109.3" y2="345.9" stroke="#7c7c7c" stroke-width="0.8" />
<text x="109.6" y="356.1" text-anchor="middle" font-size="9.6" >1</text>
<line x1="124.45" y1="344.3" x2="124.45" y2="345.9" stroke="#7c7c7c" stroke-width="0.8" />
<text x="124.75" y="356.1" text-anchor="middle" font-size="9.6" >10</text>
<line x1="154.25" y1="344.3" x2="154.25" y2="345.9" stroke="#7c7c7c" stroke-width="0.8" />
<text x="154.55" y="356.1" text-anchor="middle" font-size="9.6" >50</text>
<line x1="191.5" y1="344.3" x2="191.5" y2="345.9" stroke="#7c7c7c" stroke-width="0.8" />
<text x="191.8" y="356.1" text-anchor="middle" font-size="9.6" >100</text>
<text x="141.85" y="367.3" text-anchor="middle" font-size="9.6" >Concentration (µmol/L)</text>
<polyline points="90.6,280.8 109.3,286.51 114.1,289.73" fill="none" stroke="#a33a76" stroke-width="1.2" stroke-linejoin="round"/>
<polyline points="119.4,293.29 124.45,296.68 154.25,297.94 191.5,287.79" fill="none" stroke="#a33a76" stroke-width="1.2" stroke-linejoin="round"/>
<polyline points="90.6,280.8 109.3,273.18 114.1,280.83" fill="none" stroke="#2a4f7c" stroke-width="1.2" stroke-linejoin="round"/>
<polyline points="119.4,289.27 124.45,297.31 154.25,311.28 191.5,320.17" fill="none" stroke="#2a4f7c" stroke-width="1.2" stroke-linejoin="round"/>
<line x1="90.6" y1="276.99" x2="90.6" y2="284.61" stroke="#1c1c1c" stroke-width="1.0" />
<line x1="89.3" y1="276.99" x2="91.9" y2="276.99" stroke="#111" stroke-width="1.4" />
<line x1="89.3" y1="284.61" x2="91.9" y2="284.61" stroke="#111" stroke-width="1.4" />
<line x1="109.3" y1="283.53" x2="109.3" y2="289.5" stroke="#1c1c1c" stroke-width="1.0" />
<line x1="108" y1="283.53" x2="110.6" y2="283.53" stroke="#111" stroke-width="1.4" />
<line x1="108" y1="289.5" x2="110.6" y2="289.5" stroke="#111" stroke-width="1.4" />
<line x1="124.45" y1="294.77" x2="124.45" y2="298.58" stroke="#1c1c1c" stroke-width="1.0" />
<line x1="123.15" y1="294.77" x2="125.75" y2="294.77" stroke="#111" stroke-width="1.4" />
<line x1="123.15" y1="298.58" x2="125.75" y2="298.58" stroke="#111" stroke-width="1.4" />
<line x1="154.25" y1="294.13" x2="154.25" y2="301.75" stroke="#1c1c1c" stroke-width="1.0" />
<line x1="152.95" y1="294.13" x2="155.55" y2="294.13" stroke="#111" stroke-width="1.4" />
<line x1="152.95" y1="301.75" x2="155.55" y2="301.75" stroke="#111" stroke-width="1.4" />
<line x1="191.5" y1="285.88" x2="191.5" y2="289.69" stroke="#1c1c1c" stroke-width="1.0" />
<line x1="190.2" y1="285.88" x2="192.8" y2="285.88" stroke="#111" stroke-width="1.4" />
<line x1="190.2" y1="289.69" x2="192.8" y2="289.69" stroke="#111" stroke-width="1.4" />
<line x1="90.6" y1="272.55" x2="90.6" y2="289.06" stroke="#1c1c1c" stroke-width="1.0" />
<line x1="89.3" y1="272.55" x2="91.9" y2="272.55" stroke="#111" stroke-width="1.4" />
<line x1="89.3" y1="289.06" x2="91.9" y2="289.06" stroke="#111" stroke-width="1.4" />
<line x1="109.3" y1="268.1" x2="109.3" y2="278.26" stroke="#1c1c1c" stroke-width="1.0" />
<line x1="108" y1="268.1" x2="110.6" y2="268.1" stroke="#111" stroke-width="1.4" />
<line x1="108" y1="278.26" x2="110.6" y2="278.26" stroke="#111" stroke-width="1.4" />
<line x1="124.45" y1="295.41" x2="124.45" y2="299.21" stroke="#1c1c1c" stroke-width="1.0" />
<line x1="123.15" y1="295.41" x2="125.75" y2="295.41" stroke="#111" stroke-width="1.4" />
<line x1="123.15" y1="299.21" x2="125.75" y2="299.21" stroke="#111" stroke-width="1.4" />
<line x1="154.25" y1="308.74" x2="154.25" y2="313.82" stroke="#1c1c1c" stroke-width="1.0" />
<line x1="152.95" y1="308.74" x2="155.55" y2="308.74" stroke="#111" stroke-width="1.4" />
<line x1="152.95" y1="313.82" x2="155.55" y2="313.82" stroke="#111" stroke-width="1.4" />
<line x1="191.5" y1="317.63" x2="191.5" y2="322.71" stroke="#1c1c1c" stroke-width="1.0" />
<line x1="190.2" y1="317.63" x2="192.8" y2="317.63" stroke="#111" stroke-width="1.4" />
<line x1="190.2" y1="322.71" x2="192.8" y2="322.71" stroke="#111" stroke-width="1.4" />
<line x1="239.4" y1="281.1" x2="265.3" y2="281.1" stroke="#c4c4c4" stroke-width="1.15" stroke-dasharray="4.3 2.6"/>
<line x1="272.5" y1="281.1" x2="344.6" y2="281.1" stroke="#acacac" stroke-width="1.15" stroke-dasharray="4.3 2.6"/>
<line x1="238.05" y1="267.9" x2="238.05" y2="345.1" stroke="#7c7c7c" stroke-width="1.5" />
<line x1="236" y1="344.3" x2="237.8" y2="344.3" stroke="#7c7c7c" stroke-width="0.8" />
<line x1="236" y1="337.95" x2="237.8" y2="337.95" stroke="#7c7c7c" stroke-width="0.8" />
<line x1="236" y1="331.6" x2="237.8" y2="331.6" stroke="#7c7c7c" stroke-width="0.8" />
<line x1="236" y1="325.25" x2="237.8" y2="325.25" stroke="#7c7c7c" stroke-width="0.8" />
<line x1="236" y1="318.9" x2="237.8" y2="318.9" stroke="#7c7c7c" stroke-width="0.8" />
<line x1="236" y1="312.55" x2="237.8" y2="312.55" stroke="#7c7c7c" stroke-width="0.8" />
<line x1="236" y1="306.2" x2="237.8" y2="306.2" stroke="#7c7c7c" stroke-width="0.8" />
<line x1="236" y1="299.85" x2="237.8" y2="299.85" stroke="#7c7c7c" stroke-width="0.8" />
<line x1="236" y1="293.5" x2="237.8" y2="293.5" stroke="#7c7c7c" stroke-width="0.8" />
<line x1="236" y1="287.15" x2="237.8" y2="287.15" stroke="#7c7c7c" stroke-width="0.8" />
<line x1="236" y1="280.8" x2="237.8" y2="280.8" stroke="#7c7c7c" stroke-width="0.8" />
<line x1="236" y1="274.45" x2="237.8" y2="274.45" stroke="#7c7c7c" stroke-width="0.8" />
<line x1="236" y1="268.1" x2="237.8" y2="268.1" stroke="#7c7c7c" stroke-width="0.8" />
<text x="232.4" y="282.95" text-anchor="end" font-size="9.6" >1</text>
<text x="232.6" y="315.9" text-anchor="end" font-size="9.6" >0.5</text>
<text x="232.9" y="347.5" text-anchor="end" font-size="9.6" >0</text>
<line x1="237.2" y1="344.3" x2="265.3" y2="344.3" stroke="#7c7c7c" stroke-width="1.5" />
<line x1="271" y1="344.3" x2="343.9" y2="344.3" stroke="#7c7c7c" stroke-width="1.5" />
<line x1="242.2" y1="344.3" x2="242.2" y2="345.9" stroke="#7c7c7c" stroke-width="0.8" />
<text x="243.5" y="356.1" text-anchor="middle" font-size="9.6" >0</text>
<line x1="260.9" y1="344.3" x2="260.9" y2="345.9" stroke="#7c7c7c" stroke-width="0.8" />
<text x="261.2" y="356.1" text-anchor="middle" font-size="9.6" >1</text>
<line x1="276.05" y1="344.3" x2="276.05" y2="345.9" stroke="#7c7c7c" stroke-width="0.8" />
<text x="276.35" y="356.1" text-anchor="middle" font-size="9.6" >10</text>
<line x1="305.85" y1="344.3" x2="305.85" y2="345.9" stroke="#7c7c7c" stroke-width="0.8" />
<text x="306.15" y="356.1" text-anchor="middle" font-size="9.6" >50</text>
<line x1="343.1" y1="344.3" x2="343.1" y2="345.9" stroke="#7c7c7c" stroke-width="0.8" />
<text x="343.4" y="356.1" text-anchor="middle" font-size="9.6" >100</text>
<text x="291.85" y="367.3" text-anchor="middle" font-size="9.6" >Concentration (µmol/L)</text>
<polyline points="242.2,280.8 260.9,291.21 265.7,294.75" fill="none" stroke="#a33a76" stroke-width="1.2" stroke-linejoin="round"/>
<polyline points="271,298.66 276.05,302.39 305.85,295.91 343.1,307.03" fill="none" stroke="#a33a76" stroke-width="1.2" stroke-linejoin="round"/>
<polyline points="242.2,280.8 260.9,285.44 265.7,293.16" fill="none" stroke="#2a4f7c" stroke-width="1.2" stroke-linejoin="round"/>
<polyline points="271,301.69 276.05,309.82 305.85,315.79 343.1,328.62" fill="none" stroke="#2a4f7c" stroke-width="1.2" stroke-linejoin="round"/>
<line x1="242.2" y1="277.62" x2="242.2" y2="283.98" stroke="#1c1c1c" stroke-width="1.0" />
<line x1="240.9" y1="277.62" x2="243.5" y2="277.62" stroke="#111" stroke-width="1.4" />
<line x1="240.9" y1="283.98" x2="243.5" y2="283.98" stroke="#111" stroke-width="1.4" />
<line x1="260.9" y1="285.5" x2="260.9" y2="297.44" stroke="#1c1c1c" stroke-width="1.0" />
<line x1="259.6" y1="297.44" x2="262.2" y2="297.44" stroke="#111" stroke-width="1.4" />
<line x1="276.05" y1="297.94" x2="276.05" y2="306.83" stroke="#1c1c1c" stroke-width="1.0" />
<line x1="274.75" y1="297.94" x2="277.35" y2="297.94" stroke="#111" stroke-width="1.4" />
<line x1="274.75" y1="306.83" x2="277.35" y2="306.83" stroke="#111" stroke-width="1.4" />
<line x1="305.85" y1="290.83" x2="305.85" y2="300.99" stroke="#1c1c1c" stroke-width="1.0" />
<line x1="304.55" y1="290.83" x2="307.15" y2="290.83" stroke="#111" stroke-width="1.4" />
<line x1="304.55" y1="300.99" x2="307.15" y2="300.99" stroke="#111" stroke-width="1.4" />
<line x1="343.1" y1="302.58" x2="343.1" y2="311.47" stroke="#1c1c1c" stroke-width="1.0" />
<line x1="341.8" y1="302.58" x2="344.4" y2="302.58" stroke="#111" stroke-width="1.4" />
<line x1="341.8" y1="311.47" x2="344.4" y2="311.47" stroke="#111" stroke-width="1.4" />
<line x1="242.2" y1="276.36" x2="242.2" y2="285.25" stroke="#1c1c1c" stroke-width="1.0" />
<line x1="240.9" y1="276.36" x2="243.5" y2="276.36" stroke="#111" stroke-width="1.4" />
<line x1="240.9" y1="285.25" x2="243.5" y2="285.25" stroke="#111" stroke-width="1.4" />
<line x1="260.9" y1="283.72" x2="260.9" y2="288.61" stroke="#1c1c1c" stroke-width="1.0" />
<line x1="259.6" y1="283.72" x2="262.2" y2="283.72" stroke="#111" stroke-width="1.4" />
<line x1="276.05" y1="307.28" x2="276.05" y2="312.36" stroke="#1c1c1c" stroke-width="1.0" />
<line x1="274.75" y1="307.28" x2="277.35" y2="307.28" stroke="#111" stroke-width="1.4" />
<line x1="274.75" y1="312.36" x2="277.35" y2="312.36" stroke="#111" stroke-width="1.4" />
<line x1="305.85" y1="312.74" x2="305.85" y2="318.84" stroke="#1c1c1c" stroke-width="1.0" />
<line x1="304.55" y1="312.74" x2="307.15" y2="312.74" stroke="#111" stroke-width="1.4" />
<line x1="304.55" y1="318.84" x2="307.15" y2="318.84" stroke="#111" stroke-width="1.4" />
<line x1="343.1" y1="326.71" x2="343.1" y2="330.52" stroke="#1c1c1c" stroke-width="1.0" />
<line x1="341.8" y1="326.71" x2="344.4" y2="326.71" stroke="#111" stroke-width="1.4" />
<line x1="341.8" y1="330.52" x2="344.4" y2="330.52" stroke="#111" stroke-width="1.4" />
<line x1="391.1" y1="281.1" x2="416.9" y2="281.1" stroke="#c4c4c4" stroke-width="1.15" stroke-dasharray="4.3 2.6"/>
<line x1="424.1" y1="281.1" x2="496.2" y2="281.1" stroke="#acacac" stroke-width="1.15" stroke-dasharray="4.3 2.6"/>
<line x1="389.75" y1="267.9" x2="389.75" y2="345.1" stroke="#7c7c7c" stroke-width="1.5" />
<line x1="387.7" y1="344.3" x2="389.5" y2="344.3" stroke="#7c7c7c" stroke-width="0.8" />
<line x1="387.7" y1="337.95" x2="389.5" y2="337.95" stroke="#7c7c7c" stroke-width="0.8" />
<line x1="387.7" y1="331.6" x2="389.5" y2="331.6" stroke="#7c7c7c" stroke-width="0.8" />
<line x1="387.7" y1="325.25" x2="389.5" y2="325.25" stroke="#7c7c7c" stroke-width="0.8" />
<line x1="387.7" y1="318.9" x2="389.5" y2="318.9" stroke="#7c7c7c" stroke-width="0.8" />
<line x1="387.7" y1="312.55" x2="389.5" y2="312.55" stroke="#7c7c7c" stroke-width="0.8" />
<line x1="387.7" y1="306.2" x2="389.5" y2="306.2" stroke="#7c7c7c" stroke-width="0.8" />
<line x1="387.7" y1="299.85" x2="389.5" y2="299.85" stroke="#7c7c7c" stroke-width="0.8" />
<line x1="387.7" y1="293.5" x2="389.5" y2="293.5" stroke="#7c7c7c" stroke-width="0.8" />
<line x1="387.7" y1="287.15" x2="389.5" y2="287.15" stroke="#7c7c7c" stroke-width="0.8" />
<line x1="387.7" y1="280.8" x2="389.5" y2="280.8" stroke="#7c7c7c" stroke-width="0.8" />
<line x1="387.7" y1="274.45" x2="389.5" y2="274.45" stroke="#7c7c7c" stroke-width="0.8" />
<line x1="387.7" y1="268.1" x2="389.5" y2="268.1" stroke="#7c7c7c" stroke-width="0.8" />
<text x="384.1" y="282.95" text-anchor="end" font-size="9.6" >1</text>
<text x="384.3" y="315.9" text-anchor="end" font-size="9.6" >0.5</text>
<text x="384.6" y="347.5" text-anchor="end" font-size="9.6" >0</text>
<line x1="388.9" y1="344.3" x2="416.9" y2="344.3" stroke="#7c7c7c" stroke-width="1.5" />
<line x1="422.6" y1="344.3" x2="495.5" y2="344.3" stroke="#7c7c7c" stroke-width="1.5" />
<line x1="393.8" y1="344.3" x2="393.8" y2="345.9" stroke="#7c7c7c" stroke-width="0.8" />
<text x="395.1" y="356.1" text-anchor="middle" font-size="9.6" >0</text>
<line x1="412.5" y1="344.3" x2="412.5" y2="345.9" stroke="#7c7c7c" stroke-width="0.8" />
<text x="412.8" y="356.1" text-anchor="middle" font-size="9.6" >1</text>
<line x1="427.65" y1="344.3" x2="427.65" y2="345.9" stroke="#7c7c7c" stroke-width="0.8" />
<text x="427.95" y="356.1" text-anchor="middle" font-size="9.6" >10</text>
<line x1="457.45" y1="344.3" x2="457.45" y2="345.9" stroke="#7c7c7c" stroke-width="0.8" />
<text x="457.75" y="356.1" text-anchor="middle" font-size="9.6" >50</text>
<line x1="494.7" y1="344.3" x2="494.7" y2="345.9" stroke="#7c7c7c" stroke-width="0.8" />
<text x="495" y="356.1" text-anchor="middle" font-size="9.6" >100</text>
<text x="445.8" y="367.3" text-anchor="middle" font-size="9.6" >Concentration (µmol/L)</text>
<polyline points="393.8,280.8 412.5,283.98 417.3,292.22" fill="none" stroke="#a33a76" stroke-width="1.2" stroke-linejoin="round"/>
<polyline points="422.6,301.33 427.65,310.01 457.45,310.01 494.7,332.24" fill="none" stroke="#a33a76" stroke-width="1.2" stroke-linejoin="round"/>
<polyline points="393.8,280.8 412.5,292.87 417.3,297.77" fill="none" stroke="#2a4f7c" stroke-width="1.2" stroke-linejoin="round"/>
<polyline points="422.6,303.19 427.65,308.36 457.45,308.36 494.7,323.35" fill="none" stroke="#2a4f7c" stroke-width="1.2" stroke-linejoin="round"/>
<line x1="393.8" y1="277.62" x2="393.8" y2="283.98" stroke="#1c1c1c" stroke-width="1.0" />
<line x1="392.5" y1="277.62" x2="395.1" y2="277.62" stroke="#111" stroke-width="1.4" />
<line x1="392.5" y1="283.98" x2="395.1" y2="283.98" stroke="#111" stroke-width="1.4" />
<line x1="412.5" y1="281.18" x2="412.5" y2="289.69" stroke="#1c1c1c" stroke-width="1.0" />
<line x1="411.2" y1="281.18" x2="413.8" y2="281.18" stroke="#111" stroke-width="1.4" />
<line x1="427.65" y1="307.47" x2="427.65" y2="312.55" stroke="#1c1c1c" stroke-width="1.0" />
<line x1="426.35" y1="307.47" x2="428.95" y2="307.47" stroke="#111" stroke-width="1.4" />
<line x1="426.35" y1="312.55" x2="428.95" y2="312.55" stroke="#111" stroke-width="1.4" />
<line x1="457.45" y1="308.11" x2="457.45" y2="311.91" stroke="#1c1c1c" stroke-width="1.0" />
<line x1="456.15" y1="308.11" x2="458.75" y2="308.11" stroke="#111" stroke-width="1.4" />
<line x1="456.15" y1="311.91" x2="458.75" y2="311.91" stroke="#111" stroke-width="1.4" />
<line x1="494.7" y1="330.97" x2="494.7" y2="333.5" stroke="#1c1c1c" stroke-width="1.0" />
<line x1="493.4" y1="330.97" x2="496" y2="330.97" stroke="#111" stroke-width="1.4" />
<line x1="493.4" y1="333.5" x2="496" y2="333.5" stroke="#111" stroke-width="1.4" />
<line x1="393.8" y1="276.99" x2="393.8" y2="284.61" stroke="#1c1c1c" stroke-width="1.0" />
<line x1="392.5" y1="276.99" x2="395.1" y2="276.99" stroke="#111" stroke-width="1.4" />
<line x1="392.5" y1="284.61" x2="395.1" y2="284.61" stroke="#111" stroke-width="1.4" />
<line x1="412.5" y1="287.15" x2="412.5" y2="296.55" stroke="#1c1c1c" stroke-width="1.0" />
<line x1="411.2" y1="296.55" x2="413.8" y2="296.55" stroke="#111" stroke-width="1.4" />
<line x1="427.65" y1="305.18" x2="427.65" y2="311.53" stroke="#1c1c1c" stroke-width="1.0" />
<line x1="426.35" y1="305.18" x2="428.95" y2="305.18" stroke="#111" stroke-width="1.4" />
<line x1="426.35" y1="311.53" x2="428.95" y2="311.53" stroke="#111" stroke-width="1.4" />
<line x1="457.45" y1="306.45" x2="457.45" y2="310.26" stroke="#1c1c1c" stroke-width="1.0" />
<line x1="456.15" y1="306.45" x2="458.75" y2="306.45" stroke="#111" stroke-width="1.4" />
<line x1="456.15" y1="310.26" x2="458.75" y2="310.26" stroke="#111" stroke-width="1.4" />
<line x1="494.7" y1="320.81" x2="494.7" y2="325.89" stroke="#1c1c1c" stroke-width="1.0" />
<line x1="493.4" y1="320.81" x2="496" y2="320.81" stroke="#111" stroke-width="1.4" />
<line x1="493.4" y1="325.89" x2="496" y2="325.89" stroke="#111" stroke-width="1.4" />
<text transform="translate(48,79.7) rotate(-90)" x="0" y="0" text-anchor="middle" font-size="9.6">Relative proliferation</text>
<text transform="translate(59.7,80.5) rotate(-90)" x="0" y="0" text-anchor="middle" font-size="9.6">(mean ± SEM)</text>
<text transform="translate(26,196.3) rotate(-90)" x="0" y="0" text-anchor="middle" font-size="9.6">Clonogenic survival</text>
<text transform="translate(37,196.3) rotate(-90)" x="0" y="0" text-anchor="middle" font-size="9.6">relative number of</text>
<text transform="translate(48.4,196.3) rotate(-90)" x="0" y="0" text-anchor="middle" font-size="9.6">colonies</text>
<text transform="translate(60.1,196.3) rotate(-90)" x="0" y="0" text-anchor="middle" font-size="9.6">(mean ± SEM)</text>
<text transform="translate(37.1,314.3) rotate(-90)" x="0" y="0" text-anchor="middle" font-size="9.6">Relative number</text>
<text transform="translate(48.6,313.6) rotate(-90)" x="0" y="0" text-anchor="middle" font-size="9.6">of migrating cells</text>
<text transform="translate(60.9,314) rotate(-90)" x="0" y="0" text-anchor="middle" font-size="9.6">(mean ± SEM)</text>
</svg></div></body></html>
